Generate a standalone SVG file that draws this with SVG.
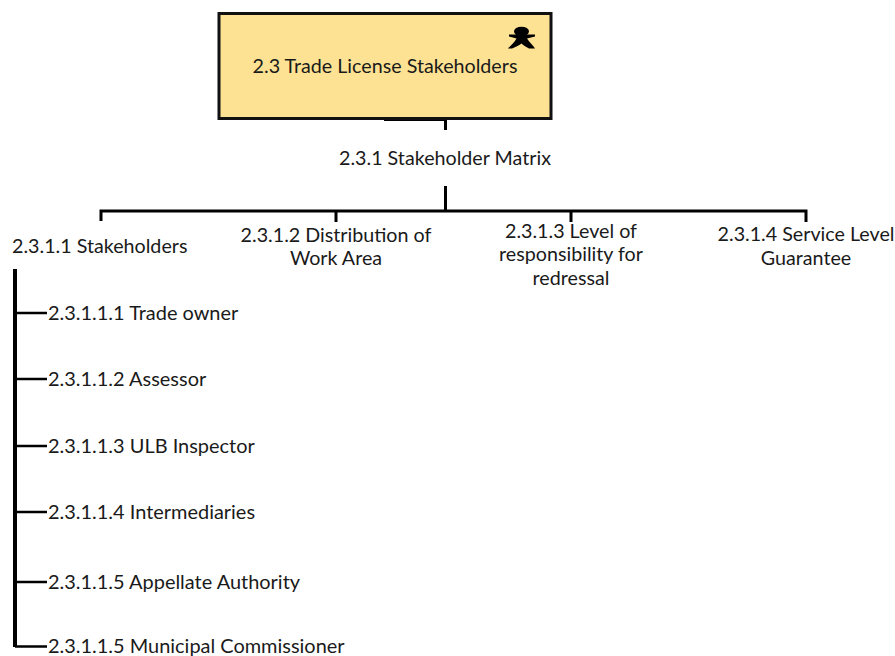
<svg xmlns="http://www.w3.org/2000/svg" width="895" height="656" viewBox="0 0 895 656">
<style>
text{font-family:"Lato","Carlito","Open Sans",sans-serif;font-size:19.700px;fill:#1a1a1a}
.l{font-size:19.950px}
.m{text-anchor:middle}
.c{fill:none;stroke:#000;stroke-width:3}
.v{fill:none;stroke:#000;stroke-width:4}
.t{fill:none;stroke:#000;stroke-width:2.500}
</style>
<rect width="895" height="656" fill="#fff"/>
<g id="connectors">
<path class="c" d="M384 119.500H445M445.500 119V130"/>
<path class="c" d="M445.500 186V210M101 221V211H806V222M336 211V222M571 211V222"/>
<path class="v" d="M15 269V647"/>
<path class="t" d="M15 313H47M15 379H47M15 446H47M15 512H47M15 582H47M15 646.500H47"/>
</g>
<g id="n23"><rect x="219" y="13.500" width="332" height="105" fill="#fde293" stroke="#111" stroke-width="3"/>
<g id="actor" fill="#000"><ellipse cx="521.500" cy="31.500" rx="7.500" ry="4.800"/><path d="M509 34.500L517 34.500H526L535 34.500V36.500L527 38.500C529 42 533 45 535 48.500L529 48.500C526 47 523 45 521.500 43.500C519.500 45 516 47 512 48.500L508 48.500C511 45 515 42 516.500 38.500L509 36.500Z"/></g>
<text class="m" x="385" y="73">2.3 Trade License Stakeholders</text></g>
<g id="n231"><text class="m" x="445" y="165">2.3.1 Stakeholder Matrix</text></g>
<g id="n2311"><text x="12" y="253">2.3.1.1 Stakeholders</text></g>
<g id="n2312"><text class="m" x="336" y="242">2.3.1.2 Distribution of</text><text class="m" x="336" y="265">Work Area</text></g>
<g id="n2313"><text class="m" x="571" y="238">2.3.1.3 Level of</text><text class="m" x="571" y="261">responsibility for</text><text class="m" x="571" y="285">redressal</text></g>
<g id="n2314"><text class="m" x="806" y="241">2.3.1.4 Service Level</text><text class="m" x="806" y="265">Guarantee</text></g>
<g id="n23111"><text class="l" x="48" y="320">2.3.1.1.1 Trade owner</text></g>
<g id="n23112"><text class="l" x="48" y="386">2.3.1.1.2 Assessor</text></g>
<g id="n23113"><text class="l" x="48" y="453">2.3.1.1.3 ULB Inspector</text></g>
<g id="n23114"><text class="l" x="48" y="519">2.3.1.1.4 Intermediaries</text></g>
<g id="n23115"><text class="l" x="48" y="589">2.3.1.1.5 Appellate Authority</text></g>
<g id="n23116"><text class="l" x="48" y="652.500">2.3.1.1.5 Municipal Commissioner</text></g>
</svg>
